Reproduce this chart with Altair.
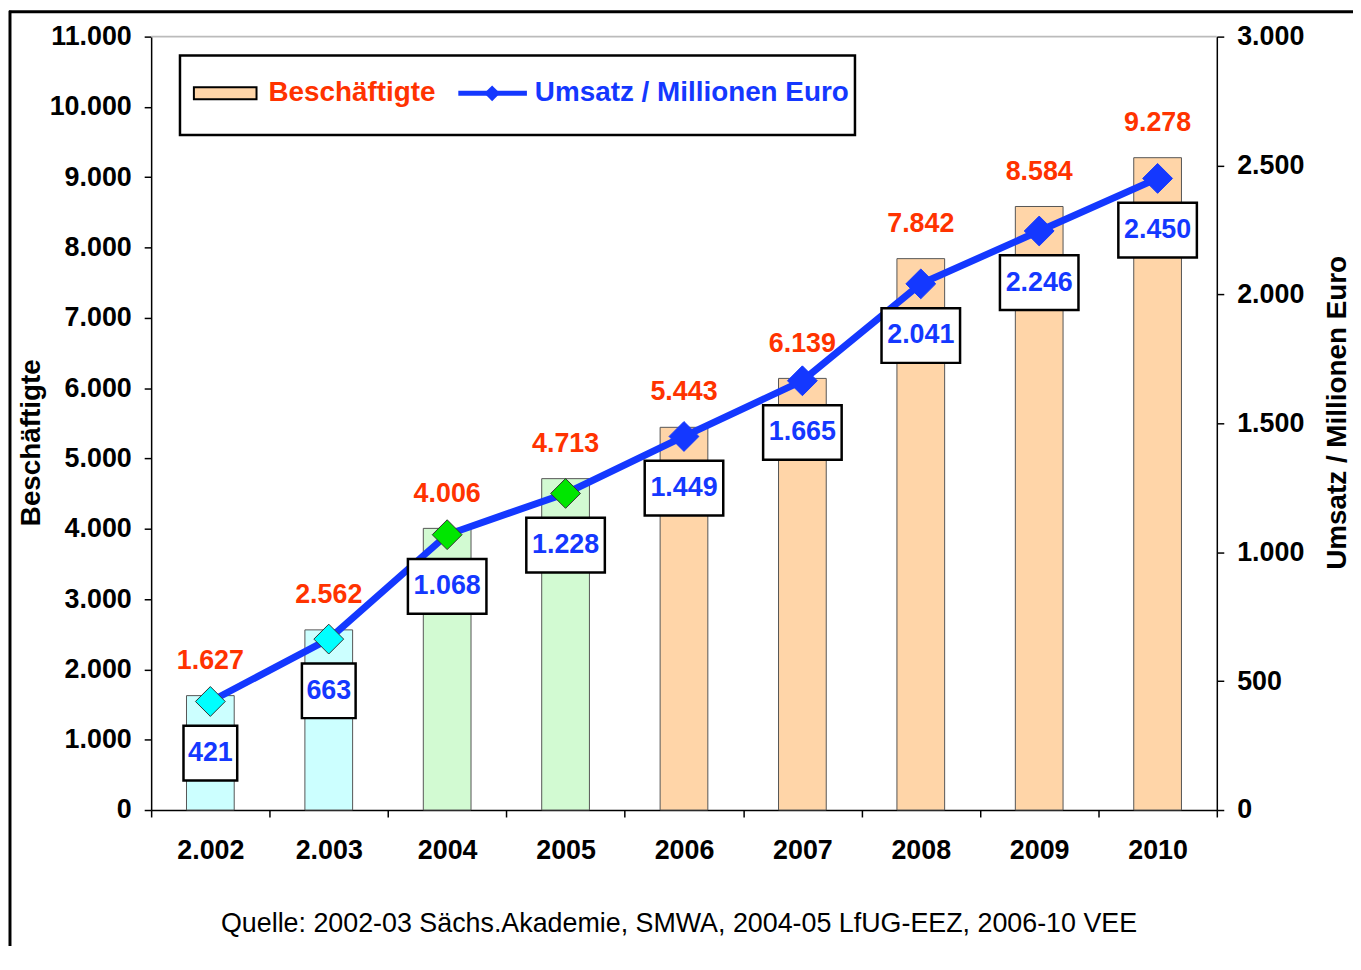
import altair as alt
import pandas as pd

# ---------------- data ----------------
years = ["2.002", "2.003", "2004", "2005", "2006", "2007", "2008", "2009", "2010"]
employees = [1627, 2562, 4006, 4713, 5443, 6139, 7842, 8584, 9278]
revenue = [421, 663, 1068, 1228, 1449, 1665, 2041, 2246, 2450]
source = ["Akademie", "Akademie", "LfUG-EEZ", "LfUG-EEZ", "VEE", "VEE", "VEE", "VEE", "VEE"]
emp_ticks = list(range(0, 11001, 1000))
rev_ticks = list(range(0, 3001, 500))
source_note = "Quelle: 2002-03 Sächs.Akademie, SMWA, 2004-05 LfUG-EEZ, 2006-10 VEE"

df = pd.DataFrame({"year": years, "emp": employees, "rev": revenue, "src": source})

# ---------------- styling ----------------
W, H = 1072, 778
FONT = "Liberation Sans"
RED = "#FF3300"
BLUE = "#1438FF"
PEACH = "#FFD5A8"
src_domain = ["Akademie", "LfUG-EEZ", "VEE"]
bar_fill = alt.Scale(domain=src_domain, range=["#CCFFFF", "#D2FAD2", PEACH])
marker_fill = alt.Scale(domain=src_domain, range=["#00FFFF", "#00E600", BLUE])
marker_stroke = alt.Scale(domain=src_domain, range=["#333333", "#333333", BLUE])

x_enc = alt.X(
    "year:N", sort=years,
    scale=alt.Scale(paddingInner=0, paddingOuter=0),
    axis=alt.Axis(title=None, labelAngle=0, tickBand="extent", tickSize=7,
                  labelPadding=21, labelBaseline="top"),
)

y_left = alt.Y(
    "emp:Q", scale=alt.Scale(domain=[0, 11000], nice=False),
    axis=alt.Axis(values=emp_ticks, format=",d", orient="left", title="Beschäftigte",
                  tickSize=7, labelPadding=13, titleAngle=-90, titleX=-120, titleY=408,
                  titleAlign="center", titleBaseline="middle"),
)

y_right = alt.Y(
    "rev:Q", scale=alt.Scale(domain=[0, 3000], nice=False),
    axis=alt.Axis(values=rev_ticks, format=",d", orient="right",
                  title="Umsatz / Millionen Euro",
                  tickSize=7, labelPadding=13, titleAngle=-90, titleX=121, titleY=378,
                  titleAlign="center", titleBaseline="middle"),
)

base = alt.Chart(df)

bars = base.mark_bar(width=48, stroke="#555555", strokeWidth=1).encode(
    x=x_enc, y=y_left,
    fill=alt.Fill("src:N", scale=bar_fill, legend=None),
)

red_labels = base.mark_text(
    dy=-35, baseline="middle", align="center", font=FONT, fontSize=27,
    fontWeight="bold", color=RED,
).encode(x=x_enc, y=y_left, text=alt.Text("emp:Q", format=",d"))

one = alt.Chart(pd.DataFrame({"k": [0]}))

top_line = one.mark_rule(color="#BBBBBB", strokeWidth=2).encode(
    x=alt.value(0), x2=alt.value(W), y=alt.value(0))
frame_left = one.mark_rule(color="black", strokeWidth=3).encode(
    x=alt.value(-142), y=alt.value(-26), y2=alt.value(920))
frame_top = one.mark_rule(color="black", strokeWidth=3).encode(
    x=alt.value(-143), x2=alt.value(W + 140), y=alt.value(-25))
note = one.mark_text(
    align="center", baseline="middle", font=FONT, fontSize=27, color="black"
).encode(x=alt.value(531), y=alt.value(893), text=alt.value(source_note))

# legend (drawn)
leg_box = one.mark_rect(fill="white", stroke="black", strokeWidth=2.5).encode(
    x=alt.value(29), x2=alt.value(708), y=alt.value(19), y2=alt.value(99))
leg_bar = one.mark_rect(fill=PEACH, stroke="black", strokeWidth=2).encode(
    x=alt.value(43), x2=alt.value(106), y=alt.value(51), y2=alt.value(63))
leg_bar_txt = one.mark_text(
    align="left", baseline="middle", font=FONT, fontSize=28, fontWeight="bold", color=RED
).encode(x=alt.value(118), y=alt.value(57), text=alt.value("Beschäftigte"))
leg_line = one.mark_rule(color=BLUE, strokeWidth=5).encode(
    x=alt.value(309), x2=alt.value(378), y=alt.value(57))
leg_diamond = one.mark_point(shape="diamond", filled=True, size=250, color=BLUE, opacity=1).encode(
    x=alt.value(343), y=alt.value(57))
leg_line_txt = one.mark_text(
    align="left", baseline="middle", font=FONT, fontSize=28, fontWeight="bold", color=BLUE
).encode(x=alt.value(386), y=alt.value(57), text=alt.value("Umsatz / Millionen Euro"))

left_group = alt.layer(bars, red_labels, top_line, frame_left, frame_top, note)

line = base.mark_line(color=BLUE, strokeWidth=7).encode(x=x_enc, y=y_right)

markers = base.mark_point(shape="diamond", filled=True, size=900, opacity=1, strokeWidth=1).encode(
    x=x_enc, y=y_right,
    fill=alt.Fill("src:N", scale=marker_fill, legend=None),
    stroke=alt.Stroke("src:N", scale=marker_stroke, legend=None),
)

box4 = "M-1,-0.696H1V0.696H-1Z"
box3 = "M-0.684,-0.696H0.684V0.696H-0.684Z"
boxes = base.transform_calculate(
    nd="length(format(datum.rev, ',d')) > 3 ? 'long' : 'short'"
).mark_point(filled=True, fill="white", stroke="black", strokeWidth=2.5, opacity=1,
             size=6241, yOffset=52).encode(
    x=x_enc, y=y_right,
    shape=alt.Shape("nd:N", scale=alt.Scale(domain=["long", "short"], range=[box4, box3]),
                    legend=None),
)

blue_labels = base.mark_text(
    dy=52, baseline="middle", align="center", font=FONT, fontSize=27,
    fontWeight="bold", color=BLUE,
).encode(x=x_enc, y=y_right, text=alt.Text("rev:Q", format=",d"))

right_group = alt.layer(line, markers, boxes, blue_labels)

legend_group = alt.layer(leg_box, leg_bar, leg_bar_txt, leg_line, leg_diamond, leg_line_txt)

chart = alt.layer(left_group, right_group, legend_group).resolve_scale(
    y="independent", fill="independent", stroke="independent", shape="independent"
).properties(
    width=W, height=H,
    autosize=alt.AutoSizeParams(type="none"),
    padding={"left": 144, "top": 26, "right": 137, "bottom": 134},
).configure_view(stroke=None).configure_axis(
    labelFont=FONT, labelFontSize=27, labelFontWeight="bold", labelColor="black",
    titleFont=FONT, titleFontSize=28, titleFontWeight="bold", titleColor="black",
    domainColor="black", domainWidth=1.5, tickColor="black", tickWidth=1.5, grid=False,
)

chart.save("out.html", embed_options={
    "renderer": "svg", "actions": False,
    "formatLocale": {"decimal": ",", "thousands": ".", "grouping": [3],
                     "currency": ["", "\u00a0€"]},
})
